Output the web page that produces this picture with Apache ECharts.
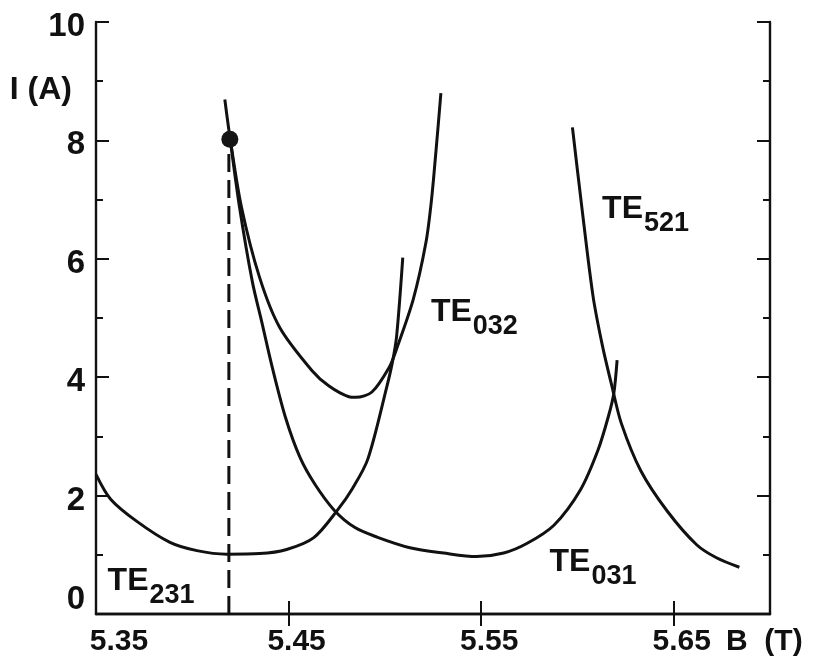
<!DOCTYPE html>
<html>
<head>
<meta charset="utf-8">
<script src="https://cdn.jsdelivr.net/npm/echarts@6/dist/echarts.min.js"></script>
<style>
html,body{margin:0;padding:0;background:#fff;}
#c{width:816px;height:668px;}
</style>
</head>
<body>
<div id="c"></div>
<script>
// ---- data (B in tesla, I in ampere) ----
const te231B = [5.350, 5.3576, 5.3714, 5.3884, 5.4024, 5.4179, 5.435, 5.449, 5.4631, 5.4753, 5.4832, 5.4912, 5.5011, 5.5039, 5.5061, 5.5093];
const te231I = [2.36, 1.94, 1.56, 1.21, 1.07, 1.01, 1.02, 1.09, 1.29, 1.75, 2.12, 2.62, 3.85, 4.25, 4.69, 6.02];

const te032B = [5.4169, 5.4197, 5.4255, 5.4349, 5.4454, 5.4622, 5.471, 5.4813, 5.4849, 5.4933, 5.5023, 5.506, 5.5147, 5.5213, 5.5242, 5.5266, 5.5291];
const te032I = [8.69, 8.02, 6.88, 5.69, 4.84, 4.11, 3.85, 3.67, 3.66, 3.75, 4.17, 4.47, 5.31, 6.27, 6.99, 7.84, 8.80];

const te031B = [5.4197, 5.4245, 5.4312, 5.4361, 5.4415, 5.4484, 5.456, 5.4635, 5.4738, 5.4845, 5.4959, 5.513, 5.5305, 5.5476, 5.5617, 5.5737, 5.5878, 5.6016, 5.6107, 5.6161, 5.6189, 5.6206];
const te031I = [8.02, 6.88, 5.61, 4.93, 4.17, 3.32, 2.64, 2.20, 1.75, 1.46, 1.30, 1.12, 1.03, 0.97, 1.03, 1.19, 1.50, 2.10, 2.77, 3.34, 3.73, 4.29];

const te521B = [5.5974, 5.602, 5.6081, 5.613, 5.6179, 5.6228, 5.6329, 5.6466, 5.6619, 5.6722, 5.6841];
const te521I = [8.22, 6.95, 5.37, 4.53, 3.85, 3.22, 2.42, 1.74, 1.17, 0.95, 0.79];

const opPointB = [5.4195];
const opPointI = [8.02];
const dashB = [5.419, 5.419];
const dashI = [0, 8.02];

const labelSub = ['231', '032', '521', '031'];
const labelB = [5.3555, 5.5234, 5.6123, 5.585];
const labelI = [0.55, 5.10, 6.84, 0.87];

const xTickValues = [5.45, 5.55, 5.65];
const xLabelValues = [5.35, 5.45, 5.55, 5.65];

// ---- build ----
const F = "'Liberation Sans', Arial, sans-serif";
const W = 'bold';
const INK = '#111';
const zip = (a, b) => a.map((v, i) => [v, b[i]]);

function curve(name, B, I) {
  return {
    name, type: 'line', data: zip(B, I), smooth: 0.3, showSymbol: false, symbol: 'none',
    lineStyle: { color: INK, width: 3 }, z: 3, silent: true
  };
}

const chart = echarts.init(document.getElementById('c'), null, { renderer: 'canvas' });
const axisLineStyle = { color: INK, width: 2.4 };

chart.setOption({
  backgroundColor: '#fff',
  animation: false,
  grid: { left: 96, right: 46, top: 22, bottom: 54 },
  xAxis: [{
    type: 'value', min: 5.35, max: 5.70, position: 'bottom',
    axisLine: { show: true, lineStyle: axisLineStyle },
    axisTick: { show: true, inside: true, length: 13, customValues: xTickValues, lineStyle: { color: INK, width: 2 } },
    axisLabel: {
      show: true, customValues: xLabelValues, margin: 13,
      formatter: v => (Math.abs(v - 5.35) < 1e-6 ? '{f|' : '{n|') + v.toFixed(2) + '}',
      rich: {
        f: { fontSize: 30, fontFamily: F, fontWeight: W, color: INK, padding: [0, 0, 0, 46] },
        n: { fontSize: 30, fontFamily: F, fontWeight: W, color: INK, padding: [0, 0, 0, 16] }
      }
    },
    splitLine: { show: false },
    name: 'B  (T)', nameLocation: 'end', nameGap: -44,
    nameTextStyle: { fontSize: 30, fontFamily: F, fontWeight: W, color: INK, align: 'left', verticalAlign: 'top', padding: [13, 0, 0, 0] }
  }, {
    type: 'value', min: 5.35, max: 5.70, position: 'top',
    axisLine: { show: true, lineStyle: axisLineStyle },
    axisTick: { show: true, inside: true, length: 12, customValues: xTickValues, lineStyle: { color: INK, width: 2 } },
    axisLabel: { show: false },
    splitLine: { show: false }
  }],
  yAxis: [{
    type: 'value', min: 0, max: 10, interval: 2, position: 'left',
    axisLine: { show: true, lineStyle: axisLineStyle },
    axisTick: { show: true, inside: true, length: 13, lineStyle: { color: INK, width: 2 } },
    minorTick: { show: true, splitNumber: 2, length: 7, lineStyle: { color: INK, width: 2 } },
    axisLabel: {
      margin: 11,
      formatter: v => (v === 0 ? '{z|0}' : '{n|' + v + '}'),
      rich: {
        n: { fontSize: 33, fontFamily: F, fontWeight: W, color: INK, padding: [10, 0, 0, 0] },
        z: { fontSize: 33, fontFamily: F, fontWeight: W, color: INK, padding: [0, 0, 28, 0] }
      }
    },
    splitLine: { show: false },
    name: 'I (A)', nameLocation: 'end', nameGap: -68,
    nameTextStyle: { fontSize: 32, fontFamily: F, fontWeight: W, color: INK, align: 'right', verticalAlign: 'middle', padding: [0, 24, 0, 0] }
  }, {
    type: 'value', min: 0, max: 10, interval: 2, position: 'right',
    axisLine: { show: true, lineStyle: axisLineStyle },
    axisTick: { show: true, inside: true, length: 13, lineStyle: { color: INK, width: 2 } },
    minorTick: { show: true, splitNumber: 2, length: 7, lineStyle: { color: INK, width: 2 } },
    axisLabel: { show: false },
    splitLine: { show: false }
  }],
  series: [
    curve('TE231', te231B, te231I),
    curve('TE032', te032B, te032I),
    curve('TE031', te031B, te031I),
    curve('TE521', te521B, te521I),
    {
      name: 'operating', type: 'line', data: zip(dashB, dashI), showSymbol: false, symbol: 'none',
      lineStyle: { color: INK, width: 3, type: [18, 8] }, z: 2, silent: true
    },
    {
      name: 'point', type: 'scatter', data: zip(opPointB, opPointI), symbol: 'circle', symbolSize: 17,
      itemStyle: { color: '#151515', opacity: 1 }, z: 5, silent: true
    },
    {
      name: 'labels', type: 'scatter', symbolSize: 2, silent: true, z: 6,
      itemStyle: { color: 'rgba(0,0,0,0)', opacity: 1 },
      data: labelB.map((b, i) => ({ value: [b, labelI[i]], sub: labelSub[i] })),
      labelLayout: { hideOverlap: false },
      label: {
        show: true, position: 'right', distance: 0, opacity: 1,
        formatter: p => '{m|TE}{s|' + p.data.sub + '}',
        rich: {
          m: { fontSize: 32, fontFamily: F, fontWeight: W, color: INK, verticalAlign: 'top', lineHeight: 32 },
          s: { fontSize: 27, fontFamily: F, fontWeight: W, color: INK, verticalAlign: 'top', lineHeight: 27, padding: [17, 0, 0, 1] }
        }
      }
    }
  ]
});
</script>
</body>
</html>
